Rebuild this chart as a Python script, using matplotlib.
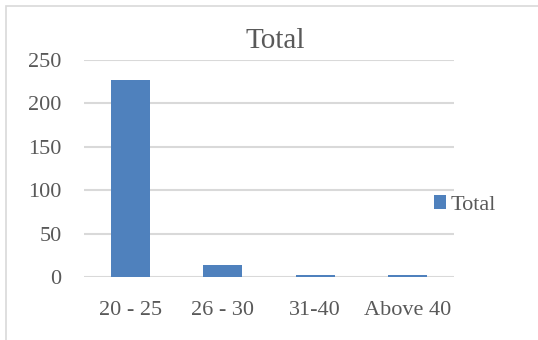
import matplotlib.pyplot as plt
from matplotlib.patches import Rectangle

categories = ["20 - 25", "26 - 30", "31-40", "Above 40"]
totals = [227, 14, 3, 3]
yticks = [0, 50, 100, 150, 200, 250]

plt.rcParams['font.family'] = ['Liberation Serif', 'DejaVu Serif']
text_col = '#595959'

fig = plt.figure(figsize=(5.38, 3.4), dpi=100, facecolor='white')
ax = fig.add_axes([0.156, 0.1844, 0.688, 0.6391])

x = range(len(categories))
bars = ax.bar(x, totals, width=0.42, color='#4f81bd', label='Total', zorder=3)

ax.set_xlim(-0.5, len(categories) - 0.5)
ax.set_ylim(0, 250)
ax.set_yticks(yticks)
ax.set_xticks(list(x))
ax.set_xticklabels(categories)
ax.grid(axis='y', color='#d9d9d9', linewidth=1.5, zorder=0)
ax.tick_params(length=0, labelsize=16, labelcolor=text_col)
ax.tick_params(axis='x', pad=17)
ax.tick_params(axis='y', pad=16)
for s in ax.spines.values():
    s.set_visible(False)

fig.text(0.511, 0.878, 'Total', ha='center', va='center', fontsize=21, color=text_col)

leg = fig.legend(handles=[bars], labels=['Total'], loc='center left',
                 bbox_to_anchor=(0.77, 0.397), frameon=False, fontsize=16,
                 handlelength=0.55, handleheight=0.55, handletextpad=0.2,
                 labelcolor=text_col)

# chart area border
fig.patches.append(Rectangle((6 / 538, -0.1), 1.2, (340 - 6) / 340 + 0.1,
                             transform=fig.transFigure, fill=False,
                             edgecolor='#d9d9d9', linewidth=1.2))

fig.savefig('out.png', dpi=100)
